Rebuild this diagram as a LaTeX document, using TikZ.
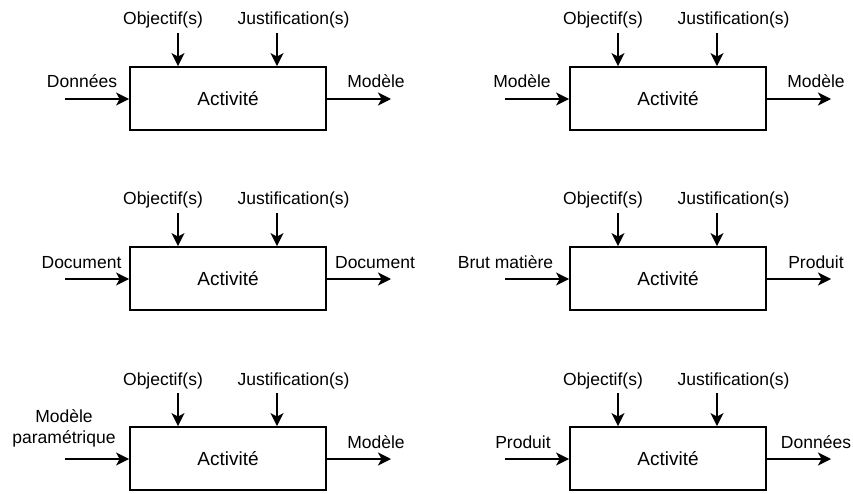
\documentclass[tikz,border=0pt]{standalone}
\usepackage{fontspec}
\setmainfont{Liberation Sans}
\usetikzlibrary{arrows.meta}
\tikzset{
  boxst/.style={draw, line width=1.8pt, minimum width=196pt, minimum height=63pt, inner sep=0pt, font=\fontsize{19}{23}\selectfont},
  lbl/.style={inner sep=0pt, font=\fontsize{17.5}{21}\selectfont, align=center},
  arr/.style={line width=1.8pt, -{Stealth[length=13pt,width=13pt,inset=3.5pt]}},
}
\newcommand{\idefbox}[3]{%
  \begin{scope}[shift={(#2,#3)}]
    \node[boxst] (#1b) at (228,98.5) {Activité};
    \node[lbl, anchor=base] (#1tl) at (163,25) {Objectif(s)};
    \node[lbl, anchor=base] (#1tr) at (293.5,25) {Justification(s)};
    \coordinate (#1o) at (178,33);
    \coordinate (#1j) at (277,33);
    \coordinate (#1i) at (65,99);
    \coordinate (#1q) at (391,99);
    \draw[arr] (#1o) -- (#1o |- #1b.north);
    \draw[arr] (#1j) -- (#1j |- #1b.north);
    \draw[arr] (#1i) -- (#1i -| #1b.west);
    \draw[arr] (#1q -| #1b.east) -- (#1q);
  \end{scope}}
\begin{document}
\begin{tikzpicture}[x=1pt, y=-1pt]
\useasboundingbox (0,0) rectangle (853,494);
\idefbox{pa}{0}{0}
\idefbox{pb}{440}{0}
\idefbox{pc}{0}{180}
\idefbox{pd}{440}{180}
\idefbox{pe}{0}{360}
\idefbox{pf}{440}{360}
% panel a
\node[lbl, anchor=base] (pain) at (82,88) {Données};
\node[lbl, anchor=base] (paout) at (376,88) {Modèle};
% panel b
\node[lbl, anchor=base] (pbin) at (522,88) {Modèle};
\node[lbl, anchor=base] (pbout) at (816,88) {Modèle};
% panel c
\node[lbl, anchor=base] (pcin) at (81.5,268) {Document};
\node[lbl, anchor=base] (pcout) at (375,268) {Document};
% panel d
\node[lbl, anchor=base] (pdin) at (505.5,268) {Brut matière};
\node[lbl, anchor=base] (pdout) at (816,268) {Produit};
% panel e
\node[lbl, anchor=south] (pein) at (64,447) {Modèle\\paramétrique};
\node[lbl, anchor=base] (peout) at (376,448) {Modèle};
% panel f
\node[lbl, anchor=base] (pfin) at (523,448) {Produit};
\node[lbl, anchor=base] (pfout) at (816,448) {Données};
\end{tikzpicture}
\end{document}
